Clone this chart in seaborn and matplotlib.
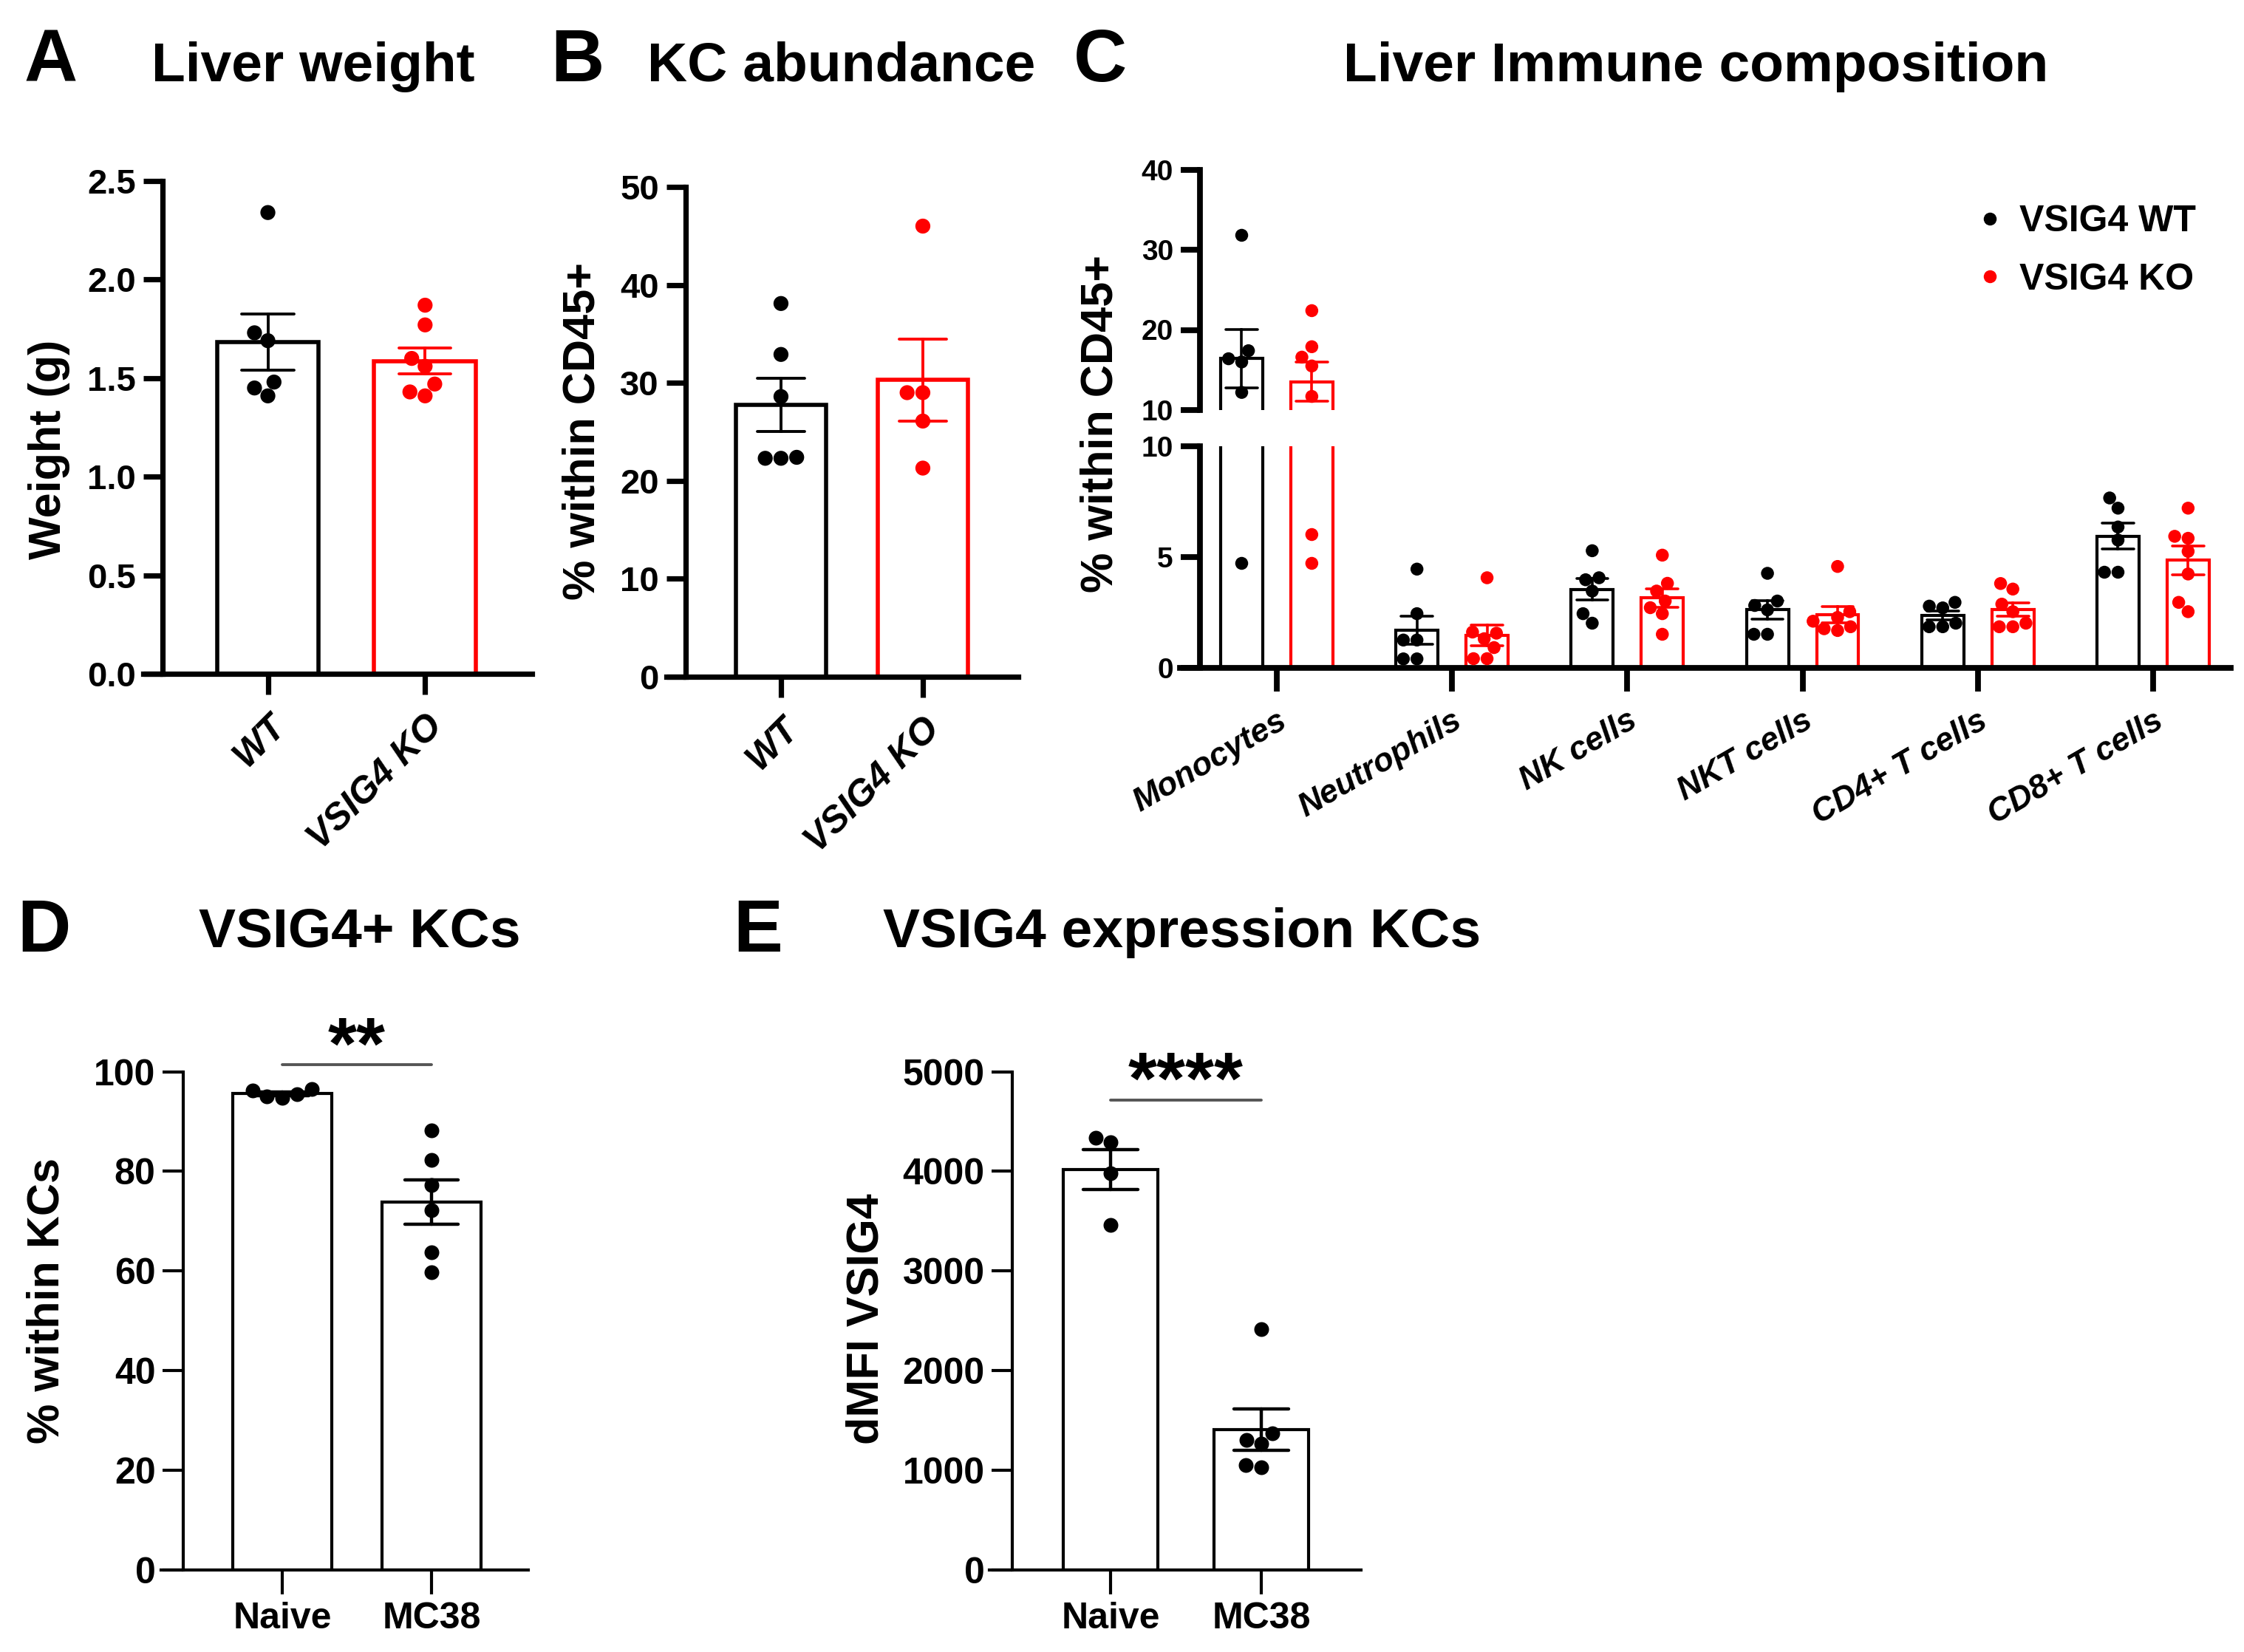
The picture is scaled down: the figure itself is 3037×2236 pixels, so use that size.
import numpy as np
import pandas as pd
import matplotlib
matplotlib.use('Agg')
import matplotlib.pyplot as plt
from matplotlib.ticker import FormatStrFormatter
import seaborn as sns

# values
genotypes = ['WT', 'VSIG4 KO']
liver_wt = [2.34, 1.69, 1.73, 1.41, 1.45, 1.48]
liver_ko = [1.87, 1.77, 1.60, 1.56, 1.47, 1.41, 1.43]
kc_wt = [38.1, 32.9, 28.6, 22.4, 22.3, 22.3]
kc_ko = [46.0, 29.0, 29.0, 26.1, 21.3]

imm_groups = ['VSIG4 WT', 'VSIG4 KO']
cell_types = ['Monocytes', 'Neutrophils', 'NK cells', 'NKT cells', 'CD4+ T cells', 'CD8+ T cells']
mono_wt = [31.8, 17.4, 16.4, 16.0, 12.2, 4.7]
mono_ko = [22.4, 17.9, 16.6, 15.5, 11.7, 6.0, 4.7]
neut_wt = [4.44, 2.43, 1.24, 1.24, 0.39, 0.39]
neut_ko = [4.05, 1.6, 1.55, 1.3, 0.9, 0.4, 0.4]
nk_wt = [5.27, 4.05, 3.96, 3.45, 2.43, 2.0]
nk_ko = [5.07, 3.8, 3.45, 3.0, 2.7, 2.43, 1.5]
nkt_wt = [4.25, 3.0, 2.8, 2.6, 1.5, 1.5]
nkt_ko = [4.56, 2.52, 2.26, 2.09, 1.75, 1.84, 1.67]
cd4_wt = [2.94, 2.77, 2.69, 1.84, 1.84, 2.0]
cd4_ko = [3.79, 3.54, 2.86, 2.52, 1.84, 1.84, 2.0]
cd8_wt = [7.65, 7.19, 6.34, 5.75, 4.3, 4.3]
cd8_ko = [7.19, 5.83, 5.92, 5.24, 4.22, 2.94, 2.52]

conditions = ['Naive', 'MC38']
vsig4_pos_naive = [95.0, 96.5, 95.5, 94.8, 96.2]
vsig4_pos_mc38 = [88.3, 82.3, 77.2, 72.2, 63.7, 59.7]
dmfi_naive = [4290, 4340, 3980, 3460]
dmfi_mc38 = [2416, 1369, 1307, 1265, 1034, 1055]

sns.set_style('ticks')
plt.rcParams['font.family'] = ['Liberation Sans', 'DejaVu Sans']
plt.rcParams['font.weight'] = 'bold'
plt.rcParams['axes.labelweight'] = 'bold'
plt.rcParams['text.color'] = 'black'
plt.rcParams['axes.labelcolor'] = 'black'

W, H, DPI = 3037, 2236, 200
fig = plt.figure(figsize=(W / DPI, H / DPI), dpi=DPI)


def px_axes(x0, x1, ytop, ybot):
    return fig.add_axes([x0 / W, 1 - ybot / H, (x1 - x0) / W, (ybot - ytop) / H])


def style_axis(ax, spine_x, lw, labelsize, ylen=9.5, xlen=10):
    sns.despine(ax=ax)
    ax.spines['left'].set_position(('data', spine_x))
    for s in ('left', 'bottom'):
        ax.spines[s].set_linewidth(lw)
        ax.spines[s].set_color('black')
    ax.tick_params(axis='y', width=lw, length=ylen, labelsize=labelsize, colors='black')
    ax.tick_params(axis='x', width=lw, length=xlen, labelsize=labelsize, colors='black')
    ax.set_xlabel('')
    ax.set_ylabel('')


def color_errorbars(ax):
    bars = list(ax.patches)
    centers = np.array([p.get_x() + p.get_width() / 2 for p in bars])
    for line in ax.lines:
        x = np.nanmean(line.get_xdata())
        i = int(np.argmin(np.abs(centers - x)))
        line.set_color(bars[i].get_edgecolor())


def ylab(x, y, text, size=22):
    fig.text(x / W, 1 - y / H, text, rotation=90, ha='center', va='center',
             fontsize=size, weight='bold')


def title(x, y, text, size=27, ha='center'):
    fig.text(x / W, 1 - y / H, text, ha=ha, va='baseline', fontsize=size, weight='bold')


pal2 = {'WT': 'black', 'VSIG4 KO': 'red'}
palC = {'VSIG4 WT': 'black', 'VSIG4 KO': 'red'}

# ---- A: liver weight ----
dfA = pd.DataFrame({'group': ['WT'] * len(liver_wt) + ['VSIG4 KO'] * len(liver_ko),
                    'value': liver_wt + liver_ko})
axA = px_axes(194, 720, 245, 912)
sns.barplot(data=dfA, x='group', y='value', hue='group', order=genotypes, hue_order=genotypes,
            palette=pal2, fill=False, width=0.648, linewidth=2.0, errorbar='se', capsize=0.33,
            err_kws={'linewidth': 1.4}, legend=False, ax=axA)
color_errorbars(axA)
sns.swarmplot(data=dfA, x='group', y='value', hue='group', order=genotypes, hue_order=genotypes,
              palette=pal2, size=7.3, legend=False, ax=axA, zorder=3)
axA.set_xlim(-0.792, 1.680)
axA.set_ylim(0, 2.5)
axA.set_yticks(np.arange(0, 2.51, 0.5))
axA.yaxis.set_major_formatter(FormatStrFormatter('%.1f'))
style_axis(axA, -0.670, 2.6, 17)
axA.tick_params(axis='x', pad=7)
for lab in axA.get_xticklabels():
    lab.set(rotation=45, ha='right', va='top', rotation_mode='anchor', style='italic', fontsize=18)

# ---- B: KC abundance ----
dfB = pd.DataFrame({'group': ['WT'] * len(kc_wt) + ['VSIG4 KO'] * len(kc_ko),
                    'value': kc_wt + kc_ko})
axB = px_axes(902, 1378, 253, 916)
sns.barplot(data=dfB, x='group', y='value', hue='group', order=genotypes, hue_order=genotypes,
            palette=pal2, fill=False, width=0.635, linewidth=2.0, errorbar='se', capsize=0.33,
            err_kws={'linewidth': 1.4}, legend=False, ax=axB)
color_errorbars(axB)
sns.swarmplot(data=dfB, x='group', y='value', hue='group', order=genotypes, hue_order=genotypes,
              palette=pal2, size=7.3, legend=False, ax=axB, zorder=3)
axB.set_xlim(-0.807, 1.672)
axB.set_ylim(0, 50)
axB.set_yticks(np.arange(0, 51, 10))
style_axis(axB, -0.672, 2.6, 17)
axB.tick_params(axis='x', pad=7)
for lab in axB.get_xticklabels():
    lab.set(rotation=45, ha='right', va='top', rotation_mode='anchor', style='italic', fontsize=18)

# ---- C: liver immune composition (broken axis) ----
wt_lists = [mono_wt, neut_wt, nk_wt, nkt_wt, cd4_wt, cd8_wt]
ko_lists = [mono_ko, neut_ko, nk_ko, nkt_ko, cd4_ko, cd8_ko]
rows = []
for ct, wt, ko in zip(cell_types, wt_lists, ko_lists):
    rows += [(ct, 'VSIG4 WT', v) for v in wt]
    rows += [(ct, 'VSIG4 KO', v) for v in ko]
dfC = pd.DataFrame(rows, columns=['cell', 'genotype', 'value'])

axC_lo = px_axes(1597, 3019, 603.5, 903.5)
axC_hi = px_axes(1597, 3019, 229.5, 555)
for ax in (axC_lo, axC_hi):
    sns.barplot(data=dfC, x='cell', y='value', hue='genotype', order=cell_types,
                hue_order=imm_groups, palette=palC, fill=False, width=0.8, gap=0.4,
                linewidth=1.5, errorbar='se', capsize=0.36, err_kws={'linewidth': 1.3},
                legend=False, ax=ax)
    color_errorbars(ax)
    sns.swarmplot(data=dfC, x='cell', y='value', hue='genotype', order=cell_types,
                  hue_order=imm_groups, palette=palC, dodge=True, size=6.3,
                  legend=(ax is axC_hi), ax=ax, zorder=3)
    ax.set_xlim(-0.552, 5.443)
    style_axis(ax, -0.438, 2.8, 14, ylen=9.5, xlen=11.5)

axC_lo.set_ylim(0, 10)
axC_lo.set_yticks([0, 5, 10])
axC_lo.tick_params(axis='x', pad=7)
for lab in axC_lo.get_xticklabels():
    lab.set(rotation=30, ha='right', va='top', rotation_mode='anchor', style='italic', fontsize=16)

axC_hi.set_ylim(10, 40)
axC_hi.set_yticks([10, 20, 30, 40])
axC_hi.spines['bottom'].set_visible(False)
axC_hi.tick_params(axis='x', bottom=False, labelbottom=False)
sns.move_legend(axC_hi, 'upper left', bbox_to_anchor=(2678 / W, 1 - 277 / H),
                bbox_transform=fig.transFigure, frameon=False, title=None, fontsize=18,
                handlelength=0.6, handletextpad=0.5, labelspacing=0.65,
                borderpad=0, borderaxespad=0)

# ---- D: VSIG4+ KCs ----
dfD = pd.DataFrame({'group': ['Naive'] * len(vsig4_pos_naive) + ['MC38'] * len(vsig4_pos_mc38),
                    'value': vsig4_pos_naive + vsig4_pos_mc38})
axD = px_axes(218, 715, 1450.6, 2125)
sns.barplot(data=dfD, x='group', y='value', order=conditions, color='black', fill=False,
            width=0.66, linewidth=1.5, errorbar='se', capsize=0.36,
            err_kws={'linewidth': 1.6, 'color': 'black'}, ax=axD)
sns.swarmplot(data=dfD, x='group', y='value', order=conditions, color='black', size=7.2,
              ax=axD, zorder=3)
axD.set_xlim(-0.812, 1.649)
axD.set_ylim(0, 100)
axD.set_yticks(np.arange(0, 101, 20))
style_axis(axD, -0.663, 1.5, 18, ylen=10, xlen=12)
sig_d_y = 101.4
axD.plot([0, 1], [sig_d_y, sig_d_y], color='#555555', lw=1.4, clip_on=False)
axD.text(0.5, 100.6, '**', ha='center', va='baseline', fontsize=36, weight='bold', clip_on=False)

# ---- E: VSIG4 expression KCs ----
dfE = pd.DataFrame({'group': ['Naive'] * len(dmfi_naive) + ['MC38'] * len(dmfi_mc38),
                    'value': dmfi_naive + dmfi_mc38})
axE = px_axes(1339, 1842, 1450.6, 2125)
sns.barplot(data=dfE, x='group', y='value', order=conditions, color='black', fill=False,
            width=0.63, linewidth=1.5, errorbar='se', capsize=0.36,
            err_kws={'linewidth': 1.6, 'color': 'black'}, ax=axE)
sns.swarmplot(data=dfE, x='group', y='value', order=conditions, color='black', size=7.2,
              ax=axE, zorder=3)
axE.set_xlim(-0.804, 1.662)
axE.set_ylim(0, 5000)
axE.set_yticks(np.arange(0, 5001, 1000))
style_axis(axE, -0.652, 1.5, 18, ylen=10, xlen=12)
sig_e_y = 4713
axE.plot([0, 1], [sig_e_y, sig_e_y], color='#555555', lw=1.4, clip_on=False)
axE.text(0.5, 4680, '****', ha='center', va='baseline', fontsize=36, weight='bold', clip_on=False)

# ---- axis labels and titles ----
ylab(67, 608, 'Weight (g)')
ylab(789, 583, '% within CD45+')
ylab(1490, 573, '% within CD45+')
ylab(64, 1760, '% within KCs')
ylab(1173, 1785, 'dMFI VSIG4')

title(33, 110, 'A', size=36, ha='left')
title(424, 110, 'Liver weight')
title(745, 110, 'B', size=36, ha='left')
title(1139, 110, 'KC abundance')
title(1453, 110, 'C', size=36, ha='left')
title(2295, 110, 'Liver Immune composition')
title(23, 1288, 'D', size=36, ha='left')
title(487, 1282, 'VSIG4+ KCs')
title(992, 1288, 'E', size=36, ha='left')
title(1600, 1282, 'VSIG4 expression KCs')

fig.savefig('out.png', dpi=DPI, facecolor='white')
